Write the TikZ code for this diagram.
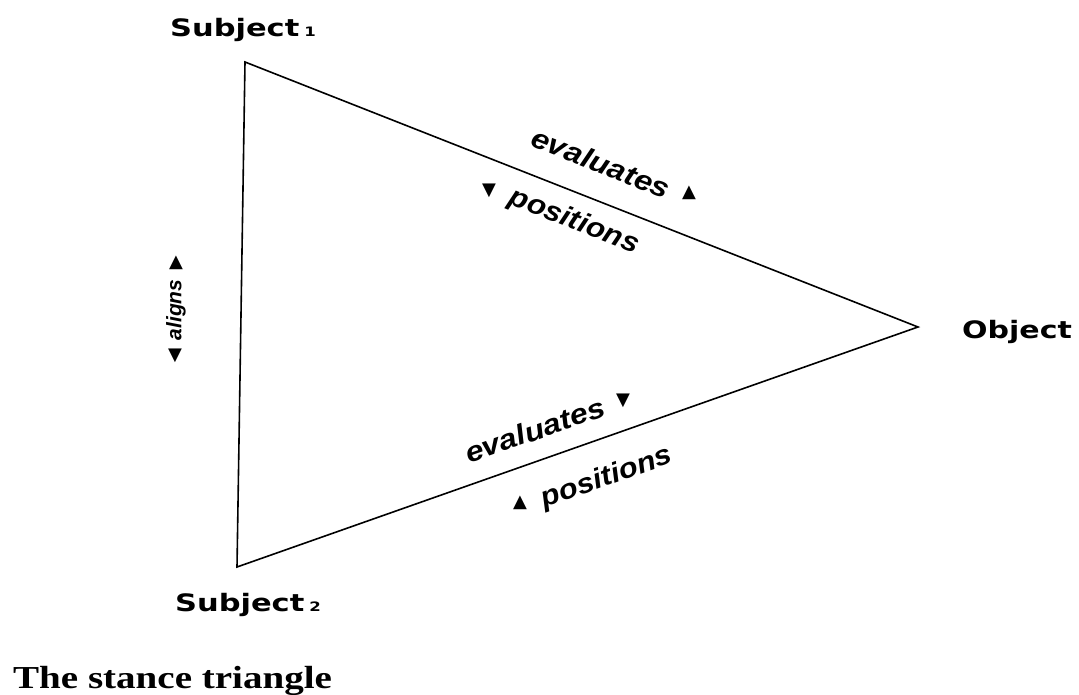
\documentclass[tikz,border=0pt]{standalone}
\usepackage{fontspec}
\setmainfont{Liberation Serif}
\newfontfamily\lbl{Liberation Sans}
\newfontfamily\hdr{DejaVu Sans}
\newfontfamily\sym{DejaVu Sans}
\begin{document}
\begin{tikzpicture}[x=1pt,y=-1pt,
  edge/.style={line width=1.6pt, line join=miter},
  party/.style={inner sep=0pt, font=\hdr\bfseries\fontsize{24}{24}\selectfont},
  verb/.style={inner sep=0pt, font=\lbl\bfseries\itshape\fontsize{28}{28}\selectfont},
  tri/.style={inner sep=0pt, font=\sym\fontsize{18}{18}\selectfont},
  caption/.style={inner sep=0pt, anchor=base west, font=\bfseries\fontsize{32}{32}\selectfont}]
\path[use as bounding box] (0,0) rectangle (1079,695);
\coordinate (s1) at (245,62);
\coordinate (ob) at (918,327);
\coordinate (s2) at (237,567);
\draw[edge] (s1) -- (ob) -- (s2) -- cycle;
% party labels
\node[party] (l1) at (243,30) {\scalebox{1.27}[1]{Subject\,{\fontsize{13}{13}\selectfont 1}}};
\node[party] (l2) at (248,605) {\scalebox{1.27}[1]{Subject\,{\fontsize{13}{13}\selectfont 2}}};
\node[party, anchor=west] (lo) at (962,332) {\scalebox{1.25}[1]{Object}};
% top edge
\node[verb, rotate=-21.5] (ev1) at (601,163) {\scalebox{1.15}[1]{evaluates}};
\node[tri] (ev1t) at (689,193) {▲};
\node[verb, rotate=-21.5] (po1) at (574,222) {\scalebox{1.1}[1]{positions}};
\node[tri] (po1t) at (489,191) {▼};
% bottom edge
\node[verb, rotate=19.4] (ev2) at (535,430) {\scalebox{1.15}[1]{evaluates}};
\node[tri] (ev2t) at (623,401) {▼};
\node[verb, rotate=19.4] (po2) at (607,478) {\scalebox{1.1}[1]{positions}};
\node[tri] (po2t) at (520,503) {▲};
% left edge
\node[verb, rotate=90, font=\lbl\bfseries\itshape\fontsize{21}{21}\selectfont] (al) at (176,310) {aligns};
\node[tri] (alt1) at (176,263) {▲};
\node[tri] (alt2) at (175,356) {▼};
% caption
\node[caption] (cap) at (13,688) {\scalebox{1.22}[1]{The stance triangle}};
\end{tikzpicture}
\end{document}
